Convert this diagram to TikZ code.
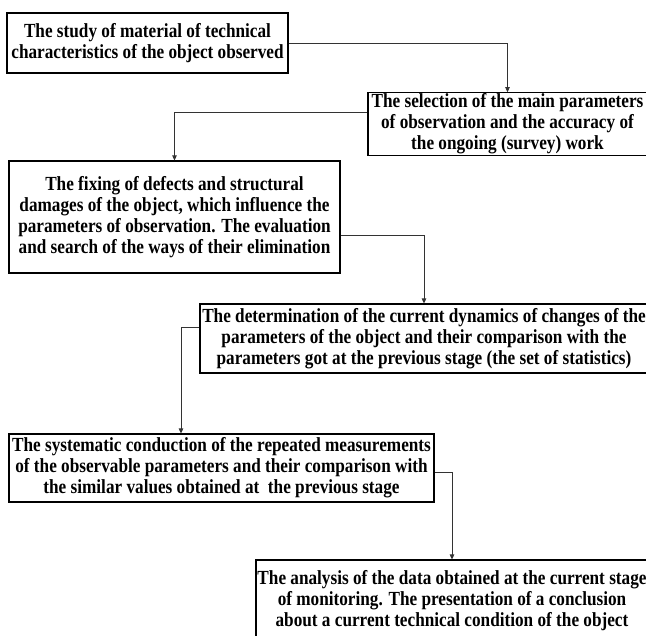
\documentclass[tikz,border=0pt]{standalone}
\usepackage{fontspec}
\setmainfont{Liberation Serif}[FakeStretch=0.86]
\usetikzlibrary{arrows.meta, positioning, calc}
\definecolor{ink}{HTML}{000000}
\definecolor{wire}{HTML}{333333}
\tikzset{
  stagebox/.style = {draw=ink, line width=1.1pt, fill=white,
                     align=center, inner sep=1pt,
                     font=\fontsize{20}{21}\selectfont\bfseries},
  arr/.style      = {-{Triangle[length=5pt,width=4.5pt]}, line width=0.8pt, wire},
}

\begin{document}
\begin{tikzpicture}[x=1pt, y=-1pt]

  \useasboundingbox (0,0) rectangle (646,636);
  \clip (0,0) rectangle (646,636);

  % stages, top to bottom
  \node[stagebox, minimum width=281pt, minimum height=60pt] (study) at (147.5,43)
    {The study of material of technical\\characteristics of the object observed};
  \node[stagebox, minimum width=279pt, minimum height=60pt] (select) at (507.5,124)
    {The selection of the main parameters\\of observation and the accuracy of\\the ongoing (survey) work};
  \node[stagebox, minimum width=331pt, minimum height=112pt] (defects) at (174.5,217)
    {The fixing of defects and structural\\damages of the object, which influence the\\parameters of observation. The evaluation\\and search of the ways of their elimination};
  \node[stagebox, minimum width=448pt, minimum height=69pt] (dynamics) at (424,338.5)
    {The determination of the current dynamics of changes of the\\parameters of the object and their comparison with the\\parameters got at the previous stage (the set of statistics)};
  \node[stagebox, minimum width=425pt, minimum height=68pt] (repeat) at (221.5,468)
    {The systematic conduction of the repeated measurements\\of the observable parameters and their comparison with\\the similar values obtained at\ \ the previous stage};
  \node[stagebox, minimum width=392pt, minimum height=82pt] (analysis) at (452,601)
    {The analysis of the data obtained at the current stage\\of monitoring. The presentation of a conclusion\\about a current technical condition of the object};

  % connectors
  \draw[arr] (study.east) -| (select.north);
  \draw[arr] ([yshift=12pt]select.west) -| (defects.north);
  \draw[arr] ([yshift=-18pt]defects.east) -| (dynamics.north);
  \draw[arr] ([yshift=11.5pt]dynamics.west) -| ([xshift=-40.5pt]repeat.north);
  \draw[arr] ([yshift=-4pt]repeat.east) -| (analysis.north);

\end{tikzpicture}
\end{document}
